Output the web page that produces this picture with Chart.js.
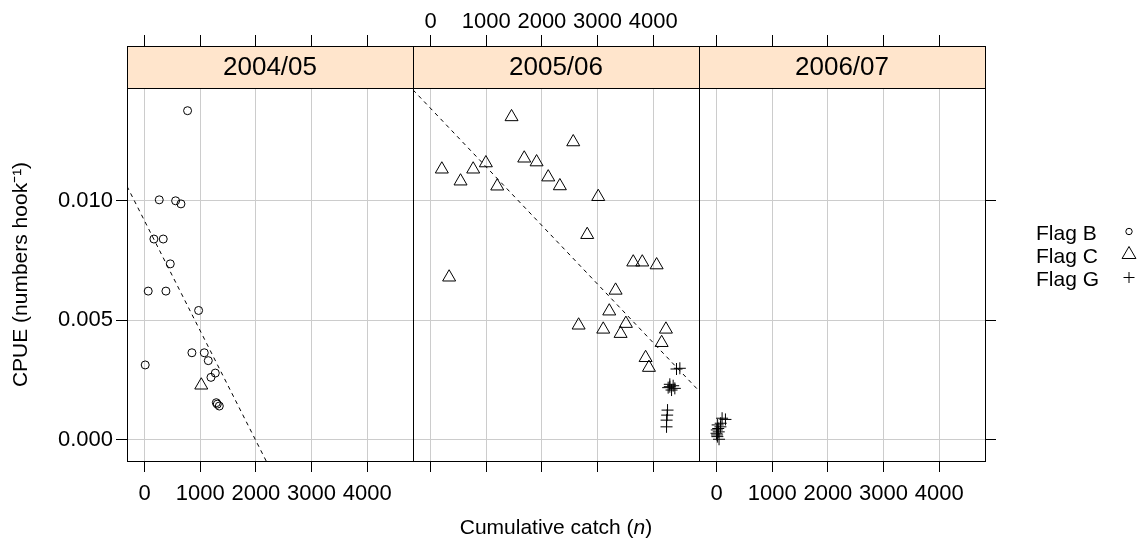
<!DOCTYPE html>
<html>
<head>
<meta charset="utf-8">
<script src="https://cdn.jsdelivr.net/npm/chart.js@4.4.1/dist/chart.umd.min.js"></script>
<style>
  html, body { margin: 0; padding: 0; background: #fff; }
  #wrap { position: relative; width: 1140px; height: 545px; }
  #wrap canvas { position: absolute; left: 0; top: 0; }
</style>
</head>
<body>
<div id="wrap">
  <canvas id="panel0" width="1140" height="545"></canvas>
  <canvas id="panel1" width="1140" height="545"></canvas>
  <canvas id="panel2" width="1140" height="545"></canvas>
</div>
<script>
// panel (season) names and tick labels
const seasons = ['2004/05', '2005/06', '2006/07'];
const flagNames = ['Flag B', 'Flag C', 'Flag G'];
const xTicks = [0, 1000, 2000, 3000, 4000];
const yTicks = [0, 0.005, 0.010];

// 2004/05
const s1FlagBX = [773, 264, 558, 654, 168, 336, 462, 66, 384, 971, 851, 1073, 1145, 12, 1271, 1193, 1289, 1307, 1343];
const s1FlagBY = [0.01377, 0.01004, 0.0100, 0.00987, 0.0084, 0.0084, 0.00736, 0.00622, 0.00622, 0.00541, 0.00364, 0.00364, 0.00331, 0.00313, 0.00279, 0.00261, 0.00155, 0.00149, 0.00141];
const s1FlagCX = [1019];
const s1FlagCY = [0.00228];

// 2005/06
const s2FlagCX = [1455, 2563, 203, 539, 766, 994, 1198, 1683, 1905, 2114, 2323, 3012, 2814, 334, 3641, 3803, 4061, 3324, 3210, 2660, 3102, 3509, 3414, 4228, 4151, 3863, 3923];
const s2FlagCY = [0.01351, 0.01246, 0.01132, 0.01082, 0.01132, 0.01158, 0.01061, 0.01178, 0.01162, 0.01099, 0.01062, 0.01017, 0.00858, 0.0068, 0.00743, 0.00743, 0.00731, 0.00625, 0.00538, 0.00479, 0.00462, 0.00486, 0.00444, 0.00462, 0.00406, 0.00343, 0.00302];
const s2FlagGX = [4418, 4478, 4298, 4358, 4268, 4388, 4329, 4298, 4257, 4250, 4240, 4239];
const s2FlagGY = [0.00296, 0.00299, 0.00232, 0.00226, 0.00218, 0.00215, 0.00208, 0.00222, 0.00124, 0.00103, 0.00082, 0.00054];

// 2006/07
const s3FlagGX = [100, 160, 20, 5, 40, 0, 15, 45, 70, 75, 10, 30];
const s3FlagGY = [0.0009, 0.00085, 0.00062, 0.00041, 0.00033, 0.00027, 0.00013, 0.00002, 0.00054, 0.00069, 0.0002, 0.00047];

// dashed regression line per season (null = none)
const fitIntercept = [0.00916, 0.01387, null];
const fitSlope = [-4.6e-6, -2.4525e-6, null];

// layout
const W = 1140, H = 545;
const PANEL_LEFT = 127, PANEL_W = 286, PANEL_TOP = 88, PANEL_BOTTOM = 461, STRIP_TOP = 46, TICK_TOP = 35;
const X_MIN = -315, X_MAX = 4822, Y_MIN = -0.00089, Y_MAX = 0.01472;
const FONT = "'Liberation Sans', Arial, Helvetica, sans-serif";
const GRID = '#cccccc';

Chart.defaults.font.family = FONT;
Chart.defaults.color = '#000';

const zip = (xs, ys) => xs.map((x, i) => ({ x: x, y: ys[i] }));
const fixedTicks = values => scale => { scale.ticks = values.map(v => ({ value: v })); };

const markStyles = {
  'Flag B': { pointStyle: 'circle', pointRadius: 4 },
  'Flag C': { pointStyle: 'triangle', pointRadius: 7.5 },
  'Flag G': { pointStyle: 'cross', pointRadius: 6 },
};

function flagDataset(name, xs, ys) {
  return Object.assign({
    label: name,
    data: zip(xs, ys),
    borderColor: '#000',
    backgroundColor: 'rgba(0,0,0,0)',
    borderWidth: 1,
    pointBorderWidth: 1,
  }, markStyles[name]);
}

function fitDataset(i) {
  const a = fitIntercept[i], b = fitSlope[i];
  return {
    label: 'fit',
    data: [X_MIN, X_MAX].map(x => ({ x: x, y: a + b * x })),
    showLine: true,
    borderColor: '#000',
    borderWidth: 1,
    borderDash: [4, 4],
    pointRadius: 0,
    fill: false,
  };
}

const stripPlugin = {
  id: 'strip',
  afterDraw(chart, args, opts) {
    const { ctx, chartArea } = chart;
    const { left, right, top } = chartArea;
    ctx.save();
    ctx.fillStyle = '#ffe5cc';
    ctx.fillRect(left, STRIP_TOP, right - left, top - STRIP_TOP);
    ctx.strokeStyle = '#000';
    ctx.lineWidth = 1;
    ctx.strokeRect(left + 0.5, STRIP_TOP + 0.5, right - left, top - STRIP_TOP);
    ctx.fillStyle = '#000';
    ctx.font = '26px ' + FONT;
    ctx.textAlign = 'center';
    ctx.textBaseline = 'middle';
    ctx.fillText(opts.label, (left + right) / 2, (STRIP_TOP + top) / 2 + 1);
    ctx.restore();
  }
};

const xTitlePlugin = {
  id: 'xTitle',
  afterDraw(chart, args, opts) {
    if (!opts.show) return;
    const ctx = chart.ctx;
    const parts = [['Cumulative catch (', ''], ['n', 'italic '], [')', '']];
    ctx.save();
    ctx.fillStyle = '#000';
    ctx.textBaseline = 'middle';
    ctx.textAlign = 'left';
    let total = 0;
    parts.forEach(p => { ctx.font = p[1] + '21px ' + FONT; total += ctx.measureText(p[0]).width; });
    let x = (PANEL_LEFT + PANEL_LEFT + 3 * PANEL_W) / 2 - total / 2;
    parts.forEach(p => {
      ctx.font = p[1] + '21px ' + FONT;
      ctx.fillText(p[0], x, 528);
      x += ctx.measureText(p[0]).width;
    });
    ctx.restore();
  }
};

const keyPlugin = {
  id: 'key',
  afterDraw(chart, args, opts) {
    if (!opts.show) return;
    const ctx = chart.ctx;
    const rows = [233, 256, 279];
    ctx.save();
    ctx.fillStyle = '#000';
    ctx.strokeStyle = '#000';
    ctx.lineWidth = 1;
    ctx.font = '21px ' + FONT;
    ctx.textBaseline = 'middle';
    ctx.textAlign = 'left';
    flagNames.forEach((name, k) => {
      const y = rows[k];
      ctx.fillText(name, 1036, y + 1);
      const sx = 1129, sy = y - 1.5;
      ctx.beginPath();
      if (k === 0) {
        ctx.arc(sx, sy, 3.2, 0, Math.PI * 2);
      } else if (k === 1) {
        const r = 8;
        ctx.moveTo(sx, sy - r);
        ctx.lineTo(sx + r * Math.sin(2 * Math.PI / 3), sy + r / 2);
        ctx.lineTo(sx - r * Math.sin(2 * Math.PI / 3), sy + r / 2);
        ctx.closePath();
      } else {
        const r = 5.5;
        ctx.moveTo(sx - r, sy); ctx.lineTo(sx + r, sy);
        ctx.moveTo(sx, sy - r); ctx.lineTo(sx, sy + r);
      }
      ctx.stroke();
    });
    ctx.restore();
  }
};

function makeScales(i) {
  const left = PANEL_LEFT + i * PANEL_W;
  const right = left + PANEL_W;
  const border = { display: true, color: '#000', width: 1 };
  return {
    x: {
      type: 'linear', position: 'bottom', min: X_MIN, max: X_MAX,
      afterBuildTicks: fixedTicks(xTicks),
      afterFit: s => { s.height = H - PANEL_BOTTOM; },
      border: border,
      grid: { color: GRID, tickColor: '#000', tickLength: 11, drawTicks: true },
      ticks: { display: i !== 1, autoSkip: false, maxRotation: 0, minRotation: 0, padding: 9,
               font: { size: 22 }, callback: v => String(v) },
    },
    x2: {
      type: 'linear', position: 'top', min: X_MIN, max: X_MAX,
      afterBuildTicks: fixedTicks(xTicks),
      afterFit: s => { s.height = PANEL_TOP; },
      border: border,
      grid: { drawOnChartArea: false, tickColor: '#000', tickLength: PANEL_TOP - TICK_TOP, drawTicks: true },
      ticks: { display: i === 1, autoSkip: false, maxRotation: 0, minRotation: 0, padding: 0,
               font: { size: 22 }, callback: v => String(v) },
    },
    y: {
      type: 'linear', position: 'left', min: Y_MIN, max: Y_MAX,
      afterBuildTicks: fixedTicks(yTicks),
      afterFit: s => { s.width = left; },
      border: border,
      grid: { color: GRID, tickColor: '#000', tickLength: 11, drawTicks: i === 0 },
      ticks: { display: i === 0, padding: 3, font: { size: 22 }, callback: v => v.toFixed(3) },
      title: { display: i === 0, text: 'CPUE (numbers hook\u207B\u00B9)', font: { size: 21 }, padding: { top: 9, bottom: 0 } },
    },
    y2: {
      type: 'linear', position: 'right', min: Y_MIN, max: Y_MAX,
      afterBuildTicks: fixedTicks(yTicks),
      afterFit: s => { s.width = W - right; },
      border: border,
      grid: { drawOnChartArea: false, tickColor: '#000', tickLength: 11, drawTicks: i === 2 },
      ticks: { display: false },
    },
  };
}

const panelDatasets = [
  [flagDataset('Flag B', s1FlagBX, s1FlagBY), flagDataset('Flag C', s1FlagCX, s1FlagCY), fitDataset(0)],
  [flagDataset('Flag C', s2FlagCX, s2FlagCY), flagDataset('Flag G', s2FlagGX, s2FlagGY), fitDataset(1)],
  [flagDataset('Flag G', s3FlagGX, s3FlagGY)],
];

const charts = seasons.map((season, i) => new Chart(document.getElementById('panel' + i), {
  type: 'scatter',
  data: { datasets: panelDatasets[i] },
  options: {
    responsive: false,
    animation: false,
    layout: { padding: 0 },
    events: [],
    scales: makeScales(i),
    plugins: {
      legend: { display: false },
      tooltip: { enabled: false },
      strip: { label: season },
      xTitle: { show: i === 1 },
      key: { show: i === 2 },
    },
  },
  plugins: [stripPlugin, xTitlePlugin, keyPlugin],
}));
</script>
</body>
</html>
